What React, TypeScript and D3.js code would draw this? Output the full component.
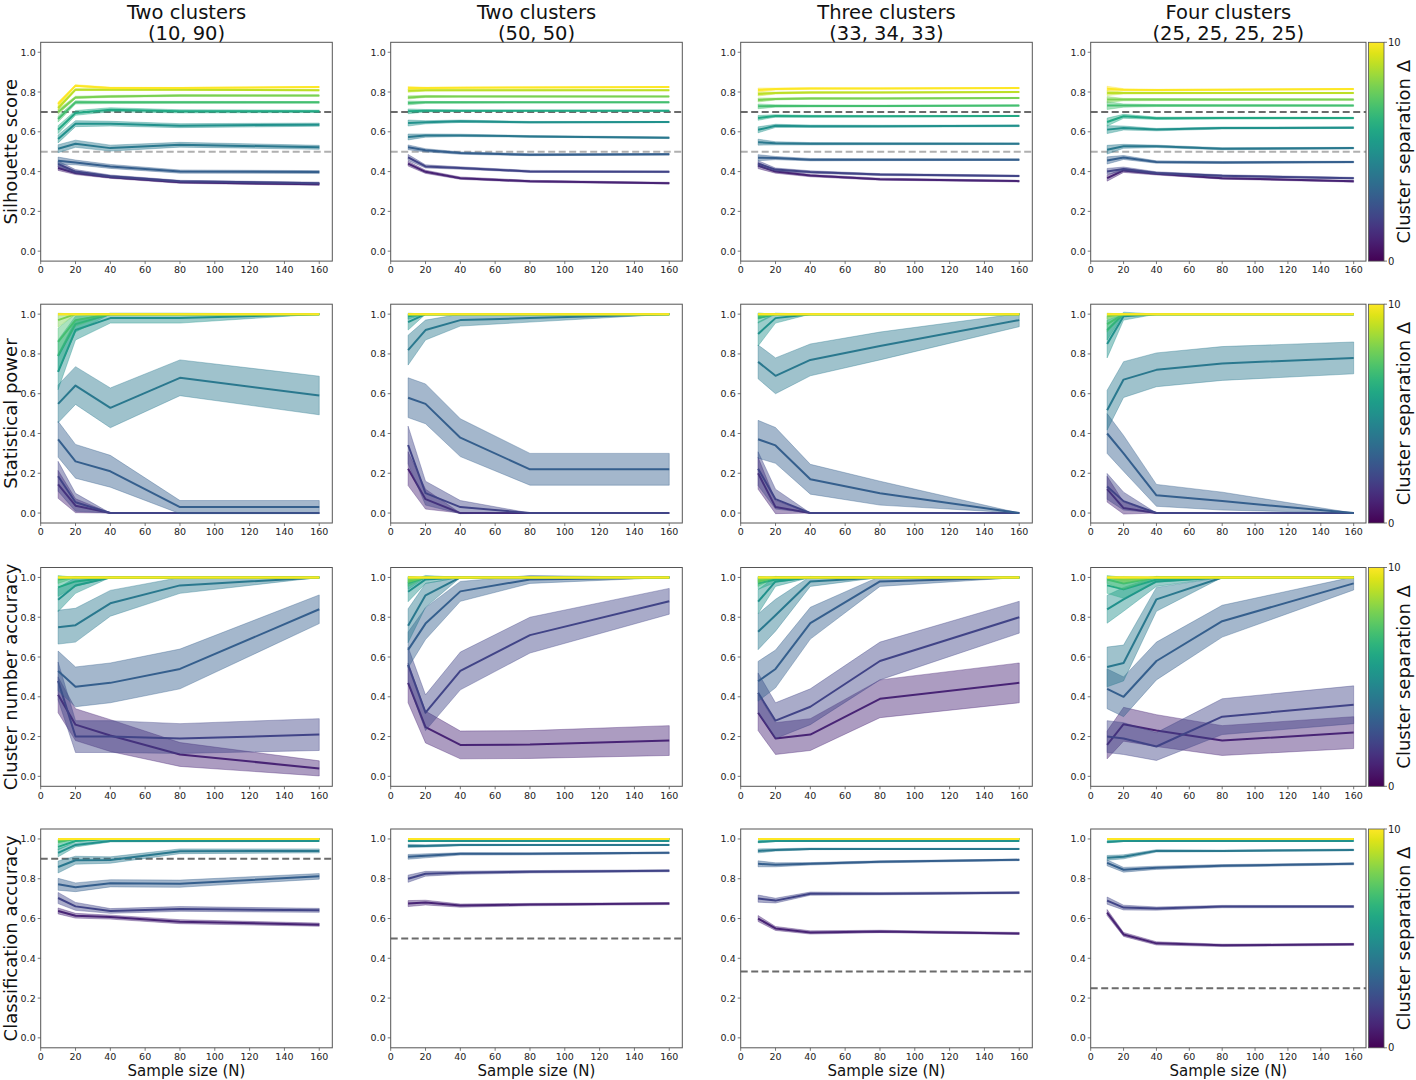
import React from "react";
import * as d3 from "d3";

// ---------------- data ----------------
const xs = [10, 20, 40, 80, 160];
const deltas = [1, 2, 3, 4, 5, 6, 7, 8, 9, 10];
const xTicks = [0, 20, 40, 60, 80, 100, 120, 140, 160];
const yTicks = [0, 0.2, 0.4, 0.6, 0.8, 1.0];
const colTitles = [
  ["Two clusters", "(10, 90)"],
  ["Two clusters", "(50, 50)"],
  ["Three clusters", "(33, 34, 33)"],
  ["Four clusters", "(25, 25, 25, 25)"],
];
const rowLabels = ["Silhouette score", "Statistical power", "Cluster number accuracy", "Classification accuracy"];
const colorbarTicks = [0, 10];
const colorbarLabel = "Cluster separation Δ";
const xLabel = "Sample size (N)";
const silThresholds = [0.7, 0.5];
const classChance = [0.9, 0.5, 0.333, 0.25];

// Silhouette score (rows = Δ1..Δ10, cols = N 10,20,40,80,160)
const silA = [
  [0.418, 0.393, 0.372, 0.346, 0.336],
  [0.438, 0.400, 0.376, 0.351, 0.342],
  [0.455, 0.446, 0.426, 0.400, 0.398],
  [0.515, 0.540, 0.518, 0.535, 0.522],
  [0.564, 0.641, 0.641, 0.631, 0.636],
  [0.611, 0.695, 0.711, 0.703, 0.703],
  [0.664, 0.748, 0.748, 0.748, 0.748],
  [0.700, 0.773, 0.778, 0.782, 0.782],
  [0.720, 0.812, 0.812, 0.812, 0.809],
  [0.740, 0.832, 0.820, 0.820, 0.825],
];
const silAErr = [
  [0.012, 0.008, 0.006, 0.005, 0.005],
  [0.015, 0.010, 0.007, 0.005, 0.005],
  [0.018, 0.012, 0.010, 0.008, 0.007],
  [0.020, 0.018, 0.015, 0.012, 0.010],
  [0.020, 0.015, 0.012, 0.010, 0.008],
  [0.020, 0.012, 0.010, 0.008, 0.006],
  [0.015, 0.008, 0.006, 0.005, 0.004],
  [0.012, 0.006, 0.005, 0.004, 0.003],
  [0.010, 0.005, 0.004, 0.003, 0.003],
  [0.010, 0.005, 0.004, 0.003, 0.003],
];
const silB = [
  [0.440, 0.399, 0.367, 0.351, 0.342],
  [0.471, 0.426, 0.418, 0.401, 0.399],
  [0.522, 0.507, 0.493, 0.485, 0.487],
  [0.574, 0.581, 0.582, 0.577, 0.570],
  [0.644, 0.648, 0.653, 0.648, 0.649],
  [0.703, 0.706, 0.706, 0.706, 0.706],
  [0.745, 0.748, 0.748, 0.748, 0.748],
  [0.773, 0.778, 0.778, 0.778, 0.778],
  [0.807, 0.809, 0.809, 0.809, 0.809],
  [0.820, 0.820, 0.822, 0.823, 0.825],
];
const silBErr = [
  [0.012, 0.008, 0.006, 0.005, 0.004],
  [0.015, 0.008, 0.006, 0.005, 0.004],
  [0.012, 0.008, 0.006, 0.005, 0.004],
  [0.015, 0.008, 0.006, 0.004, 0.004],
  [0.015, 0.008, 0.006, 0.004, 0.003],
  [0.012, 0.006, 0.004, 0.003, 0.003],
  [0.010, 0.005, 0.004, 0.003, 0.003],
  [0.008, 0.005, 0.003, 0.003, 0.002],
  [0.008, 0.004, 0.003, 0.003, 0.002],
  [0.008, 0.004, 0.003, 0.003, 0.002],
];
const silC = [
  [0.430, 0.400, 0.380, 0.362, 0.352],
  [0.440, 0.410, 0.398, 0.385, 0.378],
  [0.470, 0.468, 0.460, 0.460, 0.460],
  [0.548, 0.542, 0.540, 0.540, 0.540],
  [0.610, 0.630, 0.628, 0.628, 0.630],
  [0.670, 0.680, 0.678, 0.678, 0.680],
  [0.728, 0.730, 0.730, 0.730, 0.732],
  [0.760, 0.765, 0.768, 0.768, 0.770],
  [0.790, 0.795, 0.798, 0.798, 0.800],
  [0.810, 0.815, 0.818, 0.818, 0.820],
];
const silCErr = [
  [0.015, 0.008, 0.006, 0.005, 0.004],
  [0.015, 0.008, 0.006, 0.005, 0.004],
  [0.015, 0.008, 0.006, 0.005, 0.004],
  [0.015, 0.008, 0.006, 0.005, 0.004],
  [0.015, 0.008, 0.006, 0.005, 0.004],
  [0.012, 0.006, 0.005, 0.004, 0.003],
  [0.012, 0.006, 0.005, 0.004, 0.003],
  [0.010, 0.005, 0.004, 0.003, 0.003],
  [0.010, 0.005, 0.004, 0.003, 0.003],
  [0.010, 0.005, 0.004, 0.003, 0.003],
];
const silD = [
  [0.367, 0.406, 0.389, 0.367, 0.351],
  [0.401, 0.413, 0.393, 0.379, 0.367],
  [0.456, 0.471, 0.448, 0.446, 0.448],
  [0.510, 0.527, 0.527, 0.515, 0.518],
  [0.611, 0.619, 0.611, 0.619, 0.621],
  [0.649, 0.678, 0.668, 0.669, 0.669],
  [0.732, 0.732, 0.732, 0.732, 0.732],
  [0.762, 0.762, 0.762, 0.762, 0.762],
  [0.795, 0.795, 0.795, 0.795, 0.795],
  [0.817, 0.812, 0.810, 0.812, 0.815],
];
const silDErr = [
  [0.015, 0.010, 0.006, 0.005, 0.004],
  [0.015, 0.010, 0.006, 0.005, 0.004],
  [0.018, 0.010, 0.006, 0.005, 0.004],
  [0.022, 0.010, 0.006, 0.005, 0.004],
  [0.020, 0.010, 0.006, 0.005, 0.004],
  [0.020, 0.010, 0.006, 0.005, 0.004],
  [0.020, 0.008, 0.005, 0.004, 0.003],
  [0.015, 0.006, 0.005, 0.004, 0.003],
  [0.012, 0.005, 0.004, 0.003, 0.003],
  [0.012, 0.005, 0.004, 0.003, 0.003],
];

// Statistical power
const powA = [
  [0.144, 0.037, 0, 0, 0],
  [0.185, 0.054, 0, 0, 0],
  [0.371, 0.260, 0.210, 0.030, 0.030],
  [0.549, 0.641, 0.529, 0.680, 0.591],
  [0.710, 0.920, 0.980, 0.980, 1.0],
  [0.790, 0.950, 1.0, 1.0, 1.0],
  [0.860, 0.970, 1.0, 1.0, 1.0],
  [0.970, 1.0, 1.0, 1.0, 1.0],
  [1.0, 1.0, 1.0, 1.0, 1.0],
  [1.0, 1.0, 1.0, 1.0, 1.0],
];
const powAErr = [
  [0.070, 0.035, 0, 0, 0],
  [0.075, 0.045, 0, 0, 0],
  [0.090, 0.085, 0.080, 0.033, 0.033],
  [0.095, 0.095, 0.100, 0.090, 0.097],
  [0.090, 0.050, 0.025, 0.025, 0],
  [0.080, 0.040, 0, 0, 0],
  [0.070, 0.030, 0, 0, 0],
  [0.035, 0, 0, 0, 0],
  [0, 0, 0, 0, 0],
  [0, 0, 0, 0, 0],
];
const powB = [
  [0.223, 0.070, 0, 0, 0],
  [0.342, 0.100, 0.030, 0, 0],
  [0.580, 0.549, 0.379, 0.220, 0.220],
  [0.819, 0.920, 0.970, 0.980, 1.0],
  [0.960, 1.0, 1.0, 1.0, 1.0],
  [0.990, 1.0, 1.0, 1.0, 1.0],
  [1.0, 1.0, 1.0, 1.0, 1.0],
  [1.0, 1.0, 1.0, 1.0, 1.0],
  [1.0, 1.0, 1.0, 1.0, 1.0],
  [1.0, 1.0, 1.0, 1.0, 1.0],
];
const powBErr = [
  [0.085, 0.050, 0, 0, 0],
  [0.095, 0.060, 0.033, 0, 0],
  [0.100, 0.100, 0.095, 0.080, 0.080],
  [0.075, 0.050, 0.030, 0.020, 0],
  [0.040, 0, 0, 0, 0],
  [0.015, 0, 0, 0, 0],
  [0, 0, 0, 0, 0],
  [0, 0, 0, 0, 0],
  [0, 0, 0, 0, 0],
  [0, 0, 0, 0, 0],
];
const powC = [
  [0.200, 0.030, 0, 0, 0],
  [0.223, 0.070, 0, 0, 0],
  [0.371, 0.340, 0.170, 0.100, 0.0],
  [0.760, 0.690, 0.770, 0.840, 0.970],
  [0.900, 0.980, 1.0, 1.0, 1.0],
  [0.980, 1.0, 1.0, 1.0, 1.0],
  [0.990, 1.0, 1.0, 1.0, 1.0],
  [1.0, 1.0, 1.0, 1.0, 1.0],
  [1.0, 1.0, 1.0, 1.0, 1.0],
  [1.0, 1.0, 1.0, 1.0, 1.0],
];
const powCErr = [
  [0.080, 0.033, 0, 0, 0],
  [0.085, 0.050, 0, 0, 0],
  [0.095, 0.090, 0.075, 0.060, 0],
  [0.085, 0.090, 0.080, 0.070, 0.033],
  [0.060, 0.025, 0, 0, 0],
  [0.025, 0, 0, 0, 0],
  [0.015, 0, 0, 0, 0],
  [0, 0, 0, 0, 0],
  [0, 0, 0, 0, 0],
  [0, 0, 0, 0, 0],
];
const powD = [
  [0.120, 0.025, 0, 0, 0],
  [0.134, 0.060, 0, 0, 0],
  [0.400, 0.300, 0.089, 0.060, 0],
  [0.517, 0.671, 0.720, 0.752, 0.780],
  [0.850, 0.990, 1.0, 1.0, 1.0],
  [0.920, 1.0, 1.0, 1.0, 1.0],
  [0.950, 1.0, 1.0, 1.0, 1.0],
  [0.990, 1.0, 1.0, 1.0, 1.0],
  [1.0, 1.0, 1.0, 1.0, 1.0],
  [1.0, 1.0, 1.0, 1.0, 1.0],
];
const powDErr = [
  [0.065, 0.030, 0, 0, 0],
  [0.065, 0.045, 0, 0, 0],
  [0.100, 0.090, 0.055, 0.045, 0],
  [0.100, 0.090, 0.085, 0.085, 0.080],
  [0.070, 0.020, 0, 0, 0],
  [0.050, 0, 0, 0, 0],
  [0.040, 0, 0, 0, 0],
  [0.015, 0, 0, 0, 0],
  [0, 0, 0, 0, 0],
  [0, 0, 0, 0, 0],
];

// Cluster number accuracy
const numA = [
  [0.410, 0.260, 0.205, 0.110, 0.040],
  [0.480, 0.200, 0.200, 0.190, 0.210],
  [0.530, 0.450, 0.470, 0.540, 0.840],
  [0.750, 0.760, 0.870, 0.960, 1.0],
  [0.888, 0.960, 1.0, 1.0, 1.0],
  [0.950, 0.980, 1.0, 1.0, 1.0],
  [0.990, 1.0, 1.0, 1.0, 1.0],
  [1.0, 1.0, 1.0, 1.0, 1.0],
  [1.0, 1.0, 1.0, 1.0, 1.0],
  [1.0, 1.0, 1.0, 1.0, 1.0],
];
const numAErr = [
  [0.090, 0.080, 0.080, 0.060, 0.038],
  [0.095, 0.080, 0.080, 0.075, 0.080],
  [0.100, 0.100, 0.100, 0.100, 0.072],
  [0.085, 0.085, 0.065, 0.040, 0],
  [0.060, 0.040, 0, 0, 0],
  [0.045, 0.025, 0, 0, 0],
  [0.020, 0, 0, 0, 0],
  [0, 0, 0, 0, 0],
  [0, 0, 0, 0, 0],
  [0, 0, 0, 0, 0],
];
const numB = [
  [0.470, 0.248, 0.158, 0.160, 0.180],
  [0.560, 0.320, 0.530, 0.710, 0.880],
  [0.636, 0.768, 0.930, 0.990, 1.0],
  [0.757, 0.910, 1.0, 1.0, 1.0],
  [0.928, 0.990, 1.0, 1.0, 1.0],
  [0.970, 1.0, 1.0, 1.0, 1.0],
  [0.980, 1.0, 1.0, 1.0, 1.0],
  [0.990, 1.0, 1.0, 1.0, 1.0],
  [1.0, 1.0, 1.0, 1.0, 1.0],
  [1.0, 1.0, 1.0, 1.0, 1.0],
];
const numBErr = [
  [0.100, 0.080, 0.070, 0.070, 0.075],
  [0.090, 0.090, 0.095, 0.090, 0.065],
  [0.090, 0.080, 0.050, 0.020, 0],
  [0.085, 0.060, 0, 0, 0],
  [0.050, 0.020, 0, 0, 0],
  [0.030, 0, 0, 0, 0],
  [0.025, 0, 0, 0, 0],
  [0.015, 0, 0, 0, 0],
  [0, 0, 0, 0, 0],
  [0, 0, 0, 0, 0],
];
const numC = [
  [0.320, 0.190, 0.210, 0.390, 0.470],
  [0.420, 0.280, 0.350, 0.580, 0.800],
  [0.478, 0.540, 0.770, 0.980, 1.0],
  [0.727, 0.810, 0.980, 1.0, 1.0],
  [0.878, 0.980, 1.0, 1.0, 1.0],
  [0.970, 0.990, 1.0, 1.0, 1.0],
  [0.980, 1.0, 1.0, 1.0, 1.0],
  [0.990, 1.0, 1.0, 1.0, 1.0],
  [1.0, 1.0, 1.0, 1.0, 1.0],
  [1.0, 1.0, 1.0, 1.0, 1.0],
];
const numCErr = [
  [0.090, 0.080, 0.080, 0.095, 0.100],
  [0.100, 0.090, 0.090, 0.095, 0.080],
  [0.100, 0.095, 0.080, 0.025, 0],
  [0.090, 0.080, 0.025, 0, 0],
  [0.060, 0.025, 0, 0, 0],
  [0.030, 0.015, 0, 0, 0],
  [0.025, 0, 0, 0, 0],
  [0.015, 0, 0, 0, 0],
  [0, 0, 0, 0, 0],
  [0, 0, 0, 0, 0],
];
const numD = [
  [0.158, 0.262, 0.230, 0.180, 0.220],
  [0.200, 0.190, 0.150, 0.300, 0.360],
  [0.440, 0.400, 0.580, 0.780, 0.970],
  [0.550, 0.570, 0.890, 1.0, 1.0],
  [0.840, 0.890, 0.980, 1.0, 1.0],
  [0.960, 0.940, 0.990, 1.0, 1.0],
  [0.990, 0.970, 1.0, 1.0, 1.0],
  [1.0, 0.990, 1.0, 1.0, 1.0],
  [1.0, 1.0, 1.0, 1.0, 1.0],
  [1.0, 1.0, 1.0, 1.0, 1.0],
];
const numDErr = [
  [0.070, 0.085, 0.080, 0.075, 0.080],
  [0.080, 0.080, 0.070, 0.090, 0.095],
  [0.100, 0.100, 0.095, 0.080, 0.033],
  [0.100, 0.090, 0.060, 0, 0],
  [0.070, 0.060, 0.025, 0, 0],
  [0.040, 0.045, 0.015, 0, 0],
  [0.020, 0.030, 0, 0, 0],
  [0, 0.015, 0, 0, 0],
  [0, 0, 0, 0, 0],
  [0, 0, 0, 0, 0],
];

// Classification accuracy
const clsA = [
  [0.638, 0.614, 0.607, 0.584, 0.569],
  [0.703, 0.661, 0.638, 0.648, 0.641],
  [0.772, 0.757, 0.777, 0.775, 0.812],
  [0.859, 0.893, 0.894, 0.938, 0.940],
  [0.930, 0.970, 0.990, 0.990, 0.990],
  [0.960, 0.990, 1.0, 1.0, 1.0],
  [0.985, 1.0, 1.0, 1.0, 1.0],
  [0.995, 1.0, 1.0, 1.0, 1.0],
  [1.0, 1.0, 1.0, 1.0, 1.0],
  [1.0, 1.0, 1.0, 1.0, 1.0],
];
const clsAErr = [
  [0.015, 0.012, 0.010, 0.010, 0.008],
  [0.028, 0.020, 0.012, 0.012, 0.010],
  [0.030, 0.022, 0.018, 0.018, 0.014],
  [0.030, 0.020, 0.016, 0.012, 0.010],
  [0.020, 0.010, 0.005, 0.004, 0.003],
  [0.015, 0.005, 0, 0, 0],
  [0.008, 0, 0, 0, 0],
  [0.004, 0, 0, 0, 0],
  [0, 0, 0, 0, 0],
  [0, 0, 0, 0, 0],
];
const clsB = [
  [0.675, 0.680, 0.665, 0.670, 0.675],
  [0.800, 0.825, 0.830, 0.835, 0.840],
  [0.910, 0.915, 0.925, 0.925, 0.930],
  [0.965, 0.965, 0.970, 0.970, 0.970],
  [0.990, 0.990, 0.990, 0.990, 0.990],
  [0.997, 0.998, 1.0, 1.0, 1.0],
  [1.0, 1.0, 1.0, 1.0, 1.0],
  [1.0, 1.0, 1.0, 1.0, 1.0],
  [1.0, 1.0, 1.0, 1.0, 1.0],
  [1.0, 1.0, 1.0, 1.0, 1.0],
];
const clsBErr = [
  [0.015, 0.012, 0.008, 0.006, 0.005],
  [0.018, 0.012, 0.008, 0.006, 0.005],
  [0.012, 0.010, 0.006, 0.005, 0.004],
  [0.008, 0.006, 0.004, 0.003, 0.003],
  [0.004, 0.003, 0.002, 0.002, 0.002],
  [0, 0, 0, 0, 0],
  [0, 0, 0, 0, 0],
  [0, 0, 0, 0, 0],
  [0, 0, 0, 0, 0],
  [0, 0, 0, 0, 0],
];
const clsC = [
  [0.600, 0.550, 0.530, 0.535, 0.525],
  [0.700, 0.690, 0.725, 0.725, 0.730],
  [0.875, 0.870, 0.875, 0.885, 0.895],
  [0.940, 0.945, 0.950, 0.950, 0.950],
  [0.985, 0.990, 0.990, 0.990, 0.990],
  [0.997, 0.998, 1.0, 1.0, 1.0],
  [1.0, 1.0, 1.0, 1.0, 1.0],
  [1.0, 1.0, 1.0, 1.0, 1.0],
  [1.0, 1.0, 1.0, 1.0, 1.0],
  [1.0, 1.0, 1.0, 1.0, 1.0],
];
const clsCErr = [
  [0.015, 0.010, 0.008, 0.006, 0.005],
  [0.018, 0.012, 0.008, 0.006, 0.005],
  [0.015, 0.010, 0.006, 0.005, 0.004],
  [0.010, 0.006, 0.004, 0.003, 0.003],
  [0.005, 0.003, 0.002, 0.002, 0.002],
  [0, 0, 0, 0, 0],
  [0, 0, 0, 0, 0],
  [0, 0, 0, 0, 0],
  [0, 0, 0, 0, 0],
  [0, 0, 0, 0, 0],
];
const clsD = [
  [0.630, 0.520, 0.475, 0.465, 0.470],
  [0.690, 0.655, 0.650, 0.660, 0.660],
  [0.880, 0.845, 0.855, 0.865, 0.875],
  [0.905, 0.910, 0.940, 0.940, 0.945],
  [0.985, 0.990, 0.990, 0.990, 0.990],
  [0.997, 0.998, 1.0, 1.0, 1.0],
  [1.0, 1.0, 1.0, 1.0, 1.0],
  [1.0, 1.0, 1.0, 1.0, 1.0],
  [1.0, 1.0, 1.0, 1.0, 1.0],
  [1.0, 1.0, 1.0, 1.0, 1.0],
];
const clsDErr = [
  [0.015, 0.010, 0.008, 0.006, 0.005],
  [0.018, 0.012, 0.008, 0.006, 0.005],
  [0.015, 0.012, 0.008, 0.006, 0.005],
  [0.012, 0.010, 0.006, 0.004, 0.004],
  [0.005, 0.003, 0.002, 0.002, 0.002],
  [0, 0, 0, 0, 0],
  [0, 0, 0, 0, 0],
  [0, 0, 0, 0, 0],
  [0, 0, 0, 0, 0],
  [0, 0, 0, 0, 0],
];

// ---------------- layout ----------------
const colLeft = [40.7, 390.7, 740.7, 1090.7];
const colWidth = [291.6, 291.6, 291.6, 275.3];
const rowTop = [42.3, 304.2, 567.5, 829.0];
const rowHeight = 218.8;
const cbLeft = 1368.5;
const cbWidth = 15.5;
const FONT = "DejaVu Sans, sans-serif";

type Ref = { y: number; color: string };
type PanelData = { mean: number[][]; err: number[][]; refs: Ref[] };

const silRefColors = ["#6b6b6b", "#b0b0b0"];
const panelGrid: PanelData[][] = [
  [silA, silB, silC, silD].map((m, i) => ({
    mean: m,
    err: [silAErr, silBErr, silCErr, silDErr][i],
    refs: silThresholds.map((t, k) => ({ y: t, color: silRefColors[k] })),
  })),
  [powA, powB, powC, powD].map((m, i) => ({ mean: m, err: [powAErr, powBErr, powCErr, powDErr][i], refs: [] })),
  [numA, numB, numC, numD].map((m, i) => ({ mean: m, err: [numAErr, numBErr, numCErr, numDErr][i], refs: [] })),
  [clsA, clsB, clsC, clsD].map((m, i) => ({
    mean: m,
    err: [clsAErr, clsBErr, clsCErr, clsDErr][i],
    refs: [{ y: classChance[i], color: "#6b6b6b" }],
  })),
];

const color = d3.scaleSequential(d3.interpolateViridis).domain([0, 10]);

function Panel({ r, c }: { r: number; c: number }) {
  const left = colLeft[c];
  const width = colWidth[c];
  const top = rowTop[r];
  const bottom = top + rowHeight;
  const x = d3.scaleLinear().domain([0, 167.5]).range([left, left + width]);
  const y = d3.scaleLinear().domain([-0.05, 1.05]).range([bottom, top]);
  const pd = panelGrid[r][c];
  const fmt = d3.format(".1f");

  return (
    <g>
      {pd.refs.map((rf, k) => (
        <line
          key={"ref" + k}
          x1={left}
          x2={left + width}
          y1={y(rf.y)}
          y2={y(rf.y)}
          stroke={rf.color}
          strokeWidth={2}
          strokeDasharray="7,3.5"
        />
      ))}
      {deltas.map((d, di) => {
        const m = pd.mean[di];
        const e = pd.err[di];
        const area = d3
          .area<number>()
          .x((_, i) => x(xs[i]))
          .y0((v, i) => y(v - e[i]))
          .y1((v, i) => y(v + e[i]));
        const line = d3
          .line<number>()
          .x((_, i) => x(xs[i]))
          .y((v) => y(v));
        const col = color(d);
        return (
          <g key={"d" + d}>
            <path d={area(m) || ""} fill={col} fillOpacity={0.45} stroke={col} strokeOpacity={0.45} strokeWidth={0.8} />
            <path d={line(m) || ""} fill="none" stroke={col} strokeWidth={2} strokeLinejoin="round" />
          </g>
        );
      })}
      <rect x={left} y={top} width={width} height={rowHeight} fill="none" stroke="#555" strokeWidth={1} />
      {xTicks.map((t) => (
        <g key={"xt" + t}>
          <line x1={x(t)} x2={x(t)} y1={bottom} y2={bottom + 3} stroke="#555" strokeWidth={0.8} />
          <text x={x(t)} y={bottom + 5} fontSize={9.5} textAnchor="middle" dominantBaseline="hanging" fill="#222">
            {t}
          </text>
        </g>
      ))}
      {yTicks.map((t) => (
        <g key={"yt" + t}>
          <line x1={left - 3} x2={left} y1={y(t)} y2={y(t)} stroke="#555" strokeWidth={0.8} />
          <text x={left - 5} y={y(t)} fontSize={9.5} textAnchor="end" dominantBaseline="central" fill="#222">
            {fmt(t)}
          </text>
        </g>
      ))}
    </g>
  );
}

function Colorbar({ r }: { r: number }) {
  const top = rowTop[r];
  const bottom = top + rowHeight;
  const cy = d3.scaleLinear().domain([0, 10]).range([bottom, top]);
  const gid = "vgrad" + r;
  const stops = d3.range(0, 1.0001, 0.05);
  return (
    <g>
      <defs>
        <linearGradient id={gid} x1="0" y1="1" x2="0" y2="0">
          {stops.map((s) => (
            <stop key={s} offset={s} stopColor={d3.interpolateViridis(s)} />
          ))}
        </linearGradient>
      </defs>
      <rect x={cbLeft} y={top} width={cbWidth} height={rowHeight} fill={`url(#${gid})`} stroke="#555" strokeWidth={0.8} />
      {colorbarTicks.map((t) => (
        <g key={t}>
          <line x1={cbLeft + cbWidth} x2={cbLeft + cbWidth + 3} y1={cy(t)} y2={cy(t)} stroke="#555" strokeWidth={0.8} />
          <text x={cbLeft + cbWidth + 4} y={cy(t)} fontSize={10} dominantBaseline="central" fill="#222">
            {t}
          </text>
        </g>
      ))}
      <text
        transform={`translate(1409.5,${(top + bottom) / 2}) rotate(-90)`}
        textAnchor="middle"
        fontSize={18}
        fill="#111"
      >
        {colorbarLabel}
      </text>
    </g>
  );
}

export default function App() {
  return (
    <svg
      width={1416}
      height={1080}
      style={{ position: "absolute", left: 0, top: 0, background: "#fff" }}
      fontFamily={FONT}
    >
      <rect x={0} y={0} width={1416} height={1080} fill="#fff" />
      {colTitles.map((tt, c) => {
        const cx = colLeft[c] + colWidth[c] / 2;
        return (
          <g key={"title" + c}>
            <text x={cx} y={18.5} textAnchor="middle" fontSize={19.5} fill="#111">
              {tt[0]}
            </text>
            <text x={cx} y={40} textAnchor="middle" fontSize={19.5} fill="#111">
              {tt[1]}
            </text>
          </g>
        );
      })}
      {rowLabels.map((lbl, r) => (
        <text
          key={"rl" + r}
          transform={`translate(16.8,${rowTop[r] + rowHeight / 2}) rotate(-90)`}
          textAnchor="middle"
          fontSize={18}
          fill="#111"
        >
          {lbl}
        </text>
      ))}
      {[0, 1, 2, 3].map((r) =>
        [0, 1, 2, 3].map((c) => <Panel key={`p${r}-${c}`} r={r} c={c} />)
      )}
      {[0, 1, 2, 3].map((r) => (
        <Colorbar key={"cb" + r} r={r} />
      ))}
      {colLeft.map((l, c) => (
        <text key={"xl" + c} x={l + colWidth[c] / 2} y={1075.5} textAnchor="middle" fontSize={15} fill="#111">
          {xLabel}
        </text>
      ))}
    </svg>
  );
}
